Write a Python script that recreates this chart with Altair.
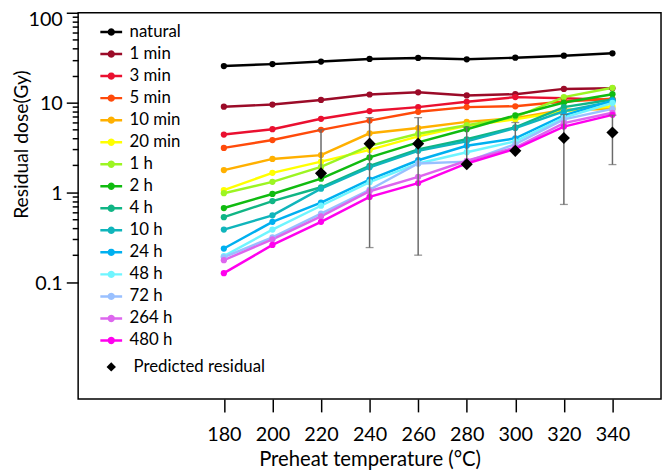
import math
import altair as alt
import pandas as pd

temps = [180, 200, 220, 240, 260, 280, 300, 320, 340]
series_names = ["natural", "1 min", "3 min", "5 min", "10 min", "20 min", "1 h", "2 h",
                "4 h", "10 h", "24 h", "48 h", "72 h", "264 h", "480 h"]
natural = [25.5, 26.8, 28.6, 30.6, 31.4, 30.3, 31.6, 33.3, 35.4]
m1 = [9.0, 9.5, 10.7, 12.3, 13.0, 12.0, 12.4, 14.2, 14.4]
m3 = [4.4, 5.05, 6.6, 8.05, 8.9, 10.2, 11.5, 11.2, 10.7]
m5 = [3.13, 3.83, 4.97, 6.3, 7.9, 8.9, 9.1, 10.3, 11.0]
m10 = [1.77, 2.36, 2.6, 4.55, 5.2, 6.1, 6.7, 8.3, 8.5]
m20 = [1.06, 1.65, 2.2, 2.97, 4.2, 5.5, 6.5, 8.0, 9.1]
h1 = [0.98, 1.31, 1.92, 3.3, 4.5, 5.6, 6.9, 11.5, 14.6]
h2 = [0.67, 0.96, 1.42, 2.45, 3.6, 5.05, 7.2, 10.0, 12.4]
h4 = [0.53, 0.80, 1.14, 1.97, 3.0, 3.9, 5.3, 8.9, 10.8]
h10 = [0.385, 0.555, 1.10, 1.90, 2.9, 3.7, 5.2, 8.0, 10.3]
h24 = [0.237, 0.47, 0.77, 1.39, 2.28, 3.3, 4.0, 7.2, 10.5]
h48 = [0.195, 0.385, 0.71, 1.3, 2.1, 2.8, 3.7, 6.8, 9.9]
h72 = [0.19, 0.315, 0.58, 1.07, 2.1, 2.2, 3.45, 6.5, 8.5]
h264 = [0.176, 0.30, 0.54, 1.03, 1.49, 2.25, 3.15, 5.9, 7.7]
h480 = [0.126, 0.26, 0.47, 0.89, 1.27, 2.1, 3.05, 5.4, 7.3]
series_values = [natural, m1, m3, m5, m10, m20, h1, h2, h4, h10, h24, h48, h72, h264, h480]
series_colors = ["#000000", "#9b0b28", "#ea1030", "#ff4a0a", "#ffb000", "#ffff00", "#9cf522",
                 "#10bb10", "#10b585", "#10b5bb", "#00b0f0", "#6ff5ff", "#99c0ff", "#dd66ee", "#ff00ee"]

pred_name = "Predicted residual"
pred_temps = [220, 240, 260, 280, 300, 320, 340]
pred_values = [1.63, 3.49, 3.49, 2.06, 2.9, 4.03, 4.64]
pred_upper = [4.97, 6.8, 6.8, 5.33, 6.0, 7.37, 7.24]
pred_lower = [None, 0.243, 0.20, None, None, 0.734, 2.04]

x_ticks = temps
y_ticks = [round(m * 10 ** k, 6) for k in (-1, 0, 1) for m in range(1, 10)] + [100]

# ---------- tables ----------
rows = []
for name, vals in zip(series_names, series_values):
    for t, v in zip(temps, vals):
        rows.append({"temp": t, "dose": v, "series": name})
lines_df = pd.DataFrame(rows)

pred_rows, cap_rows = [], []
for t, v, up, lo in zip(pred_temps, pred_values, pred_upper, pred_lower):
    pred_rows.append({"temp": t, "dose": v, "upper": up,
                      "lower": lo if lo is not None else v, "series": pred_name})
    cap_rows.append({"temp": t, "dose": up})
    if lo is not None:
        cap_rows.append({"temp": t, "dose": lo})
pred_df = pd.DataFrame(pred_rows)
caps_df = pd.DataFrame(cap_rows)


# legend glyph: short line with a dot (polygons only)
def ring(r):
    pts = [(r * math.cos(k * math.pi / 6), r * math.sin(k * math.pi / 6)) for k in range(12)]
    return "M" + "L".join("%.3f,%.3f" % p for p in pts) + "Z"


LINE = "M-1.12,0L1.12,0" + ring(0.25) + ring(0.1)

legend_lines = alt.Legend(
    orient="none", legendX=22, legendY=8, direction="vertical",
    labelFont="Lato", labelFontSize=17, labelColor="black", labelOffset=7,
    symbolType=LINE, symbolSize=388, symbolStrokeWidth=2.5, rowPadding=2.3, padding=0,
    labelLimit=300, symbolOpacity=1,
)
legend_pred = alt.Legend(
    orient="none", legendX=25, legendY=350, direction="vertical",
    labelFont="Lato", labelFontSize=17, labelColor="black", labelOffset=14,
    symbolSize=90, symbolFillColor="black", symbolStrokeColor="black",
    padding=0, labelLimit=300, symbolOpacity=1,
)

POW = "abs(log(datum.value)/LN10 - round(log(datum.value)/LN10)) < 1e-6"

x_enc = alt.X("temp:Q", scale=alt.Scale(domain=[120, 360], nice=False, zero=False),
              axis=alt.Axis(values=x_ticks, tickSize=13, tickWidth=1.5, tickColor="black",
                            labelFont="Lato", labelFontSize=20, labelColor="black",
                            labelPadding=13, labelFlush=False, domain=False, grid=False,
                            title="Preheat temperature (°C)", titleFont="Lato",
                            titleFontSize=20.5, titleFontWeight="normal", titleColor="black",
                            titlePadding=5))
y_scale = alt.Scale(type="log", domain=[0.005, 100], nice=False)
y_axis = alt.Axis(values=y_ticks, labelOverlap=False, labelFlush=False,
                  labelExpr="(%s) ? (datum.value >= 1 ? format(datum.value, 'd') : format(datum.value, '.1f')) : ''" % POW,
                  tickSize={"condition": {"test": POW, "value": 12}, "value": 6},
                  labelOffset={"condition": {"test": "datum.value >= 100", "value": 7}, "value": 1},
                  tickWidth=1.5, tickColor="black", labelFont="Lato", labelFontSize=20,
                  labelColor="black", labelPadding=4, domain=False, grid=False,
                  title="Residual dose(Gy)", titleFont="Lato", titleFontSize=19.5,
                  titleFontWeight="normal", titleColor="black", titleX=-51, titleY=133,
                  titleAlign="center", titleBaseline="alphabetic", titleAngle=270)
y_enc = alt.Y("dose:Q", scale=y_scale, axis=y_axis)
color_scale = alt.Scale(domain=series_names, range=series_colors)

base = alt.Chart(lines_df)
lines = base.mark_line(strokeWidth=2.5).encode(
    x=x_enc, y=y_enc,
    color=alt.Color("series:N", scale=color_scale, sort=series_names, legend=legend_lines, title=None))
points = base.mark_circle(size=40, opacity=1).encode(
    x=x_enc, y=y_enc,
    color=alt.Color("series:N", scale=color_scale, sort=series_names, legend=None))

err = alt.Chart(pred_df).mark_rule(color="#6a6a6a", strokeWidth=1.5).encode(
    x="temp:Q", y=alt.Y("lower:Q", scale=y_scale), y2="upper:Q")
caps = alt.Chart(caps_df).mark_tick(orient="horizontal", size=8, thickness=1.3,
                                    color="#6a6a6a").encode(
    x="temp:Q", y=alt.Y("dose:Q", scale=y_scale))
diamonds = alt.Chart(pred_df).mark_point(filled=True, size=150, opacity=1, color="black").encode(
    x=x_enc, y=y_enc,
    shape=alt.Shape("series:N", scale=alt.Scale(domain=[pred_name], range=["diamond"]),
                    legend=legend_pred, title=None))

chart = alt.layer(lines, points, err, caps, diamonds).properties(
    width=590, height=391,
    padding={"left": 71, "top": 2, "right": 2, "bottom": 69},
    autosize=alt.AutoSizeParams(type="none"),
).configure_view(stroke="black", strokeWidth=1.5)

chart.save("out.html", embed_options={"renderer": "svg", "actions": False})
